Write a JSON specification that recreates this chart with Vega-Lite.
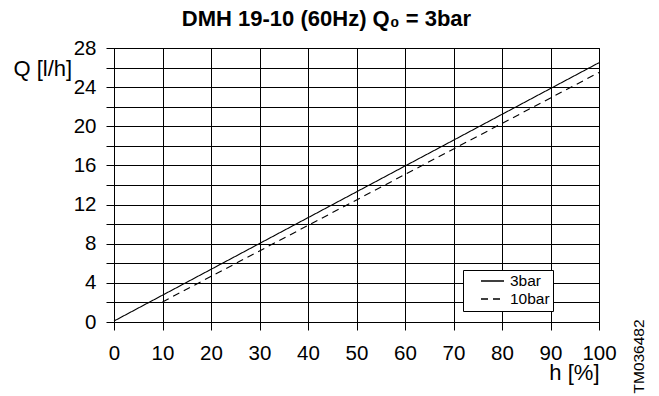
{
  "$schema": "https://vega.github.io/schema/vega-lite/v6.json",
  "width": 485,
  "height": 274,
  "autosize": "none",
  "padding": {"left": 114, "top": 48, "right": 60, "bottom": 74},
  "background": "white",
  "config": {
    "font": "Liberation Sans",
    "view": {"stroke": "black", "strokeWidth": 1}
  },
  "title": {
    "text": "DMH 19-10 (60Hz) Q₀ = 3bar",
    "font": "Liberation Sans",
    "fontSize": 22,
    "fontWeight": "bold",
    "color": "black",
    "anchor": "middle",
    "dx": -30,
    "offset": 7
  },
  "data": {
    "values": [
      {"h": 0, "q": 0.1, "series": "3bar"},
      {"h": 100, "q": 26.5, "series": "3bar"},
      {"h": 10, "q": 2.05, "series": "10bar"},
      {"h": 100, "q": 25.5, "series": "10bar"}
    ]
  },
  "layer": [
    {
      "mark": {"type": "line", "color": "black", "strokeWidth": 1.1},
      "encoding": {
        "x": {
          "field": "h",
          "type": "quantitative",
          "scale": {"domain": [0, 100], "nice": false},
          "axis": {
            "values": [0,5,10,15,20,25,30,35,40,45,50,55,60,65,70,75,80,85,90,95,100],
            "labelExpr": "datum.value % 10 == 0 ? datum.label : ''",
            "title": "h [%]",
            "titleFont": "Liberation Sans",
            "titleFontSize": 22,
            "titleFontWeight": "normal",
            "titleColor": "black",
            "titleAnchor": "end",
            "titleAlign": "right",
            "titleBaseline": "alphabetic",
            "titleX": 485,
            "titleY": 57,
            "labelFontSize": 20.5,
            "labelColor": "black",
            "labelPadding": 13,
            "labelFlush": false,
            "labelOverlap": false,
            "tickSize": 8,
            "tickColor": "black",
            "domainColor": "black",
            "gridColor": "black",
            "gridOpacity": 1,
            "grid": true
          }
        },
        "y": {
          "field": "q",
          "type": "quantitative",
          "scale": {"domain": [0, 28], "nice": false},
          "axis": {
            "values": [0,2,4,6,8,10,12,14,16,18,20,22,24,26,28],
            "labelExpr": "datum.value % 4 == 0 ? datum.label : ''",
            "title": "Q [l/h]",
            "titleFont": "Liberation Sans",
            "titleFontSize": 22,
            "titleFontWeight": "normal",
            "titleColor": "black",
            "titleAngle": 0,
            "titleAlign": "left",
            "titleBaseline": "alphabetic",
            "titleX": -101,
            "titleY": 27,
            "labelFontSize": 20.5,
            "labelColor": "black",
            "labelPadding": 10,
            "labelFlush": false,
            "labelOverlap": false,
            "tickSize": 8,
            "tickColor": "black",
            "domainColor": "black",
            "gridColor": "black",
            "gridOpacity": 1,
            "grid": true
          }
        },
        "strokeDash": {
          "field": "series",
          "type": "nominal",
          "scale": {"domain": ["3bar", "10bar"], "range": [[1, 0], [7, 5]]},
          "legend": {
            "title": null,
            "orient": "none",
            "legendX": 349,
            "legendY": 222,
            "symbolType": "stroke",
            "symbolStrokeColor": "black",
            "symbolStrokeWidth": 1.6,
            "symbolSize": 529,
            "symbolOffset": 14,
            "clipHeight": 16,
            "labelFontSize": 15.5,
            "labelColor": "black",
            "labelExpr": "datum.label + '\u00a0\u00a0\u00a0\u00a0'",
            "fillColor": "white",
            "strokeColor": "black",
            "padding": 3,
            "rowPadding": 1,
            "labelOffset": 5
          }
        }
      }
    },
    {
      "mark": {"type": "line", "opacity": 0},
      "encoding": {
        "x": {"field": "h", "type": "quantitative"},
        "y": {
          "field": "q",
          "type": "quantitative",
          "axis": {
            "orient": "right",
            "title": "TM036482",
            "titleFont": "Liberation Sans",
            "titleFontSize": 15.5,
            "titleFontWeight": "normal",
            "titleColor": "black",
            "titleAngle": 270,
            "titleAlign": "left",
            "titleBaseline": "middle",
            "titleX": 39,
            "titleY": 345,
            "labels": false,
            "ticks": false,
            "domain": false,
            "grid": false
          }
        }
      }
    }
  ],
  "resolve": {"axis": {"y": "independent"}}
}
